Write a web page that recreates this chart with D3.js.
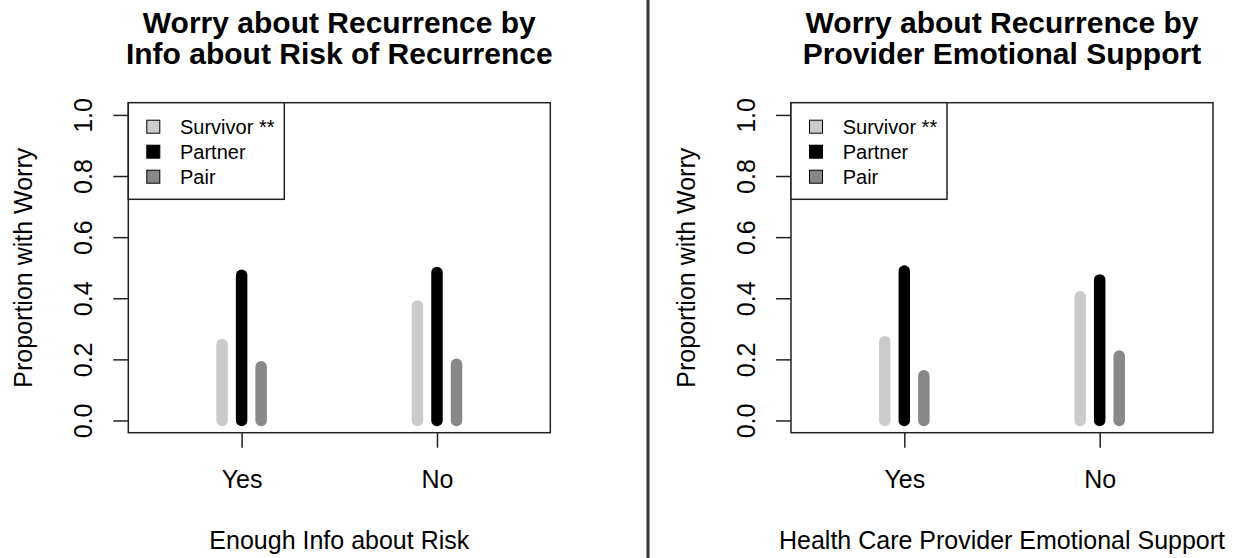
<!DOCTYPE html>
<html lang="en">
<head>
    <meta charset="UTF-8">
    <style>
        html, body {
            margin:0;
            height:100%;
            overflow:hidden;
            background:#fff;
        }
        svg {
            position:absolute;
            top:0;
            left:0;
            font-family:"Liberation Sans", Arial, sans-serif;
        }
    </style>
    <script src="https://d3js.org/d3.v7.min.js"></script>
</head>
<body>
<svg width="1248" height="558"></svg>

<script>
    // data
    var categories = ["Yes", "No"];
    var seriesNames = ["Survivor **", "Partner", "Pair"];
    var seriesColors = ["#cbcbcb", "#000000", "#888888"];
    var seriesOffsets = [-0.1, 0, 0.1];
    var yTicks = [0, 0.2, 0.4, 0.6, 0.8, 1.0];

    var infoSurvivor = [0.249, 0.375];
    var infoPartner = [0.475, 0.484];
    var infoPair = [0.176, 0.184];

    var supportSurvivor = [0.258, 0.405];
    var supportPartner = [0.489, 0.460];
    var supportPair = [0.146, 0.211];

    var panels = [
        {
            title: ["Worry about Recurrence by", "Info about Risk of Recurrence"],
            xlab: "Enough Info about Risk",
            series: [infoSurvivor, infoPartner, infoPair],
            left: 128.3
        },
        {
            title: ["Worry about Recurrence by", "Provider Emotional Support"],
            xlab: "Health Care Provider Emotional Support",
            series: [supportSurvivor, supportPartner, supportPair],
            left: 791
        }
    ];

    d3.select(window).on('load', init);

    function init() {
        var svg = d3.select("svg");
        var top = 102.7, width = 422, height = 330;
        var ink = "#222";

        // divider between the two plots
        svg.append("line")
            .attr("x1", 648).attr("x2", 648)
            .attr("y1", 0).attr("y2", 558)
            .attr("stroke", "#333")
            .attr("stroke-width", 3);

        panels.forEach(function (p) {
            var g = svg.append("g")
                .attr("transform", "translate(" + p.left + "," + top + ")");

            // R style 4% padding around xlim c(0.5,2.5) and ylim c(0,1)
            var x = d3.scaleLinear().domain([0.42, 2.58]).range([0, width]);
            var y = d3.scaleLinear().domain([-0.04, 1.04]).range([height, 0]);

            // titles
            p.title.forEach(function (t, i) {
                svg.append("text")
                    .attr("x", p.left + width / 2)
                    .attr("y", 33 + i * 31)
                    .attr("text-anchor", "middle")
                    .attr("font-size", 30)
                    .attr("font-weight", "bold")
                    .text(t);
            });

            // y axis
            var ya = g.append("g")
                .call(d3.axisLeft(y).tickValues(yTicks).tickSize(15).tickSizeOuter(0)
                    .tickFormat(d3.format(".1f")));
            ya.select(".domain").remove();
            ya.selectAll("line").attr("stroke", ink).attr("stroke-width", 1.5);
            ya.selectAll("text")
                .attr("x", 0)
                .attr("dy", 0)
                .attr("transform", "translate(-36,0) rotate(-90)")
                .attr("text-anchor", "middle")
                .attr("font-size", 25)
                .attr("font-family", "Liberation Sans, Arial, sans-serif")
                .attr("fill", "#000");

            // x axis
            var xa = g.append("g")
                .attr("transform", "translate(0," + height + ")")
                .call(d3.axisBottom(x).tickValues([1, 2]).tickSize(15).tickSizeOuter(0)
                    .tickFormat(function (d) { return categories[d - 1]; }));
            xa.select(".domain").remove();
            xa.selectAll("line").attr("stroke", ink).attr("stroke-width", 1.5);
            xa.selectAll("text")
                .attr("y", 55)
                .attr("dy", 0)
                .attr("font-size", 25)
                .attr("font-family", "Liberation Sans, Arial, sans-serif")
                .attr("fill", "#000");

            // axis titles
            g.append("text")
                .attr("transform", "translate(-96," + height / 2 + ") rotate(-90)")
                .attr("text-anchor", "middle")
                .attr("font-size", 25)
                .text("Proportion with Worry");

            g.append("text")
                .attr("x", width / 2)
                .attr("y", height + 116)
                .attr("text-anchor", "middle")
                .attr("font-size", 25)
                .text(p.xlab);

            // bars drawn as thick round-capped lines
            p.series.forEach(function (vals, s) {
                g.selectAll(".bar" + s)
                    .data(vals)
                    .enter().append("line")
                    .attr("x1", function (d, i) { return x(i + 1 + seriesOffsets[s]); })
                    .attr("x2", function (d, i) { return x(i + 1 + seriesOffsets[s]); })
                    .attr("y1", y(0))
                    .attr("y2", function (d) { return y(d); })
                    .attr("stroke", seriesColors[s])
                    .attr("stroke-width", 11.5)
                    .attr("stroke-linecap", "round");
            });

            // plot box
            g.append("rect")
                .attr("width", width)
                .attr("height", height)
                .attr("fill", "none")
                .attr("stroke", ink)
                .attr("stroke-width", 1.5);

            // legend
            var lg = g.append("g");
            lg.append("rect")
                .attr("width", 156)
                .attr("height", 96.6)
                .attr("fill", "#fff")
                .attr("stroke", ink)
                .attr("stroke-width", 1.5);
            seriesNames.forEach(function (name, s) {
                lg.append("rect")
                    .attr("x", 18.5)
                    .attr("y", 24 + s * 25 - 6.5)
                    .attr("width", 13)
                    .attr("height", 13)
                    .attr("fill", seriesColors[s])
                    .attr("stroke", "#000")
                    .attr("stroke-width", 1);
                lg.append("text")
                    .attr("x", 51.7)
                    .attr("y", 24 + s * 25)
                    .attr("dy", "0.35em")
                    .attr("font-size", 20)
                    .text(name);
            });
        });
    }
</script>
</body>
</html>
